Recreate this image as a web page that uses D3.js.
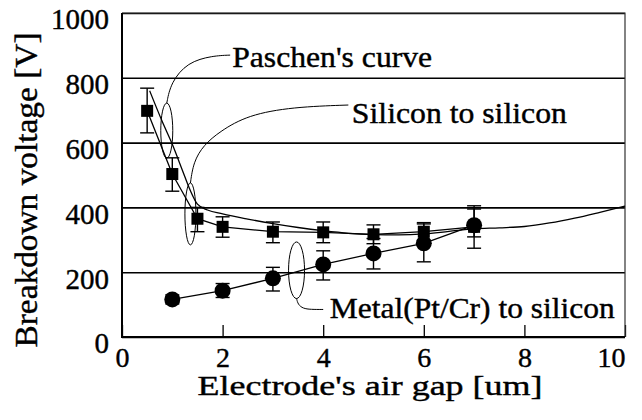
<!DOCTYPE html>
<html>
<head>
<meta charset="utf-8">
<script src="https://cdn.jsdelivr.net/npm/d3@7"></script>
<style>
	body { margin: 0; background: #fff; }
</style>
</head>
<body>
<svg id="chart" width="642" height="420"></svg>
<script>
// silicon to silicon (squares)
const si_gap = [0.5, 1, 1.5, 2, 3, 4, 5, 6, 7];
const si_volt = [698, 503, 365, 340, 325, 323, 317, 325, 340];
const si_low = [630, 450, 325, 308, 291, 291, 288, 298, 309];
const si_high = [768, 553, 400, 371, 355, 355, 346, 353, 395];

// metal (Pt/Cr) to silicon (circles)
const metal_gap = [1, 2, 3, 4, 5, 6, 7];
const metal_volt = [116, 143, 181, 224, 258, 289, 345];
const metal_low = [102, 122, 142, 176, 210, 232, 274];
const metal_high = [130, 165, 215, 266, 304, 349, 405];

// Paschen's curve
const paschen_gap = [0.55, 0.8, 1.0, 1.2, 1.35, 1.5, 1.7, 2.0, 2.5, 3.0, 3.5, 4.0, 4.5, 5.0, 5.5, 6.0, 6.5, 7.0, 7.5, 8.0, 8.5, 9.0, 9.5, 10];
const paschen_volt = [760, 665, 595, 515, 455, 410, 392, 380, 364, 350, 338, 328, 320, 316, 315, 318, 326, 334, 337, 341, 352, 367, 385, 404];

const x_ticks = [0, 2, 4, 6, 8, 10];
const y_ticks = [0, 200, 400, 600, 800, 1000];

// annotations: ellipse centre (data units), leader line points, label
const notes = [
	{ label: "Paschen's curve", cx: 0.89, cy: 637, rx: 6, ry: 27.5,
		leader: [[0.89, 722], [0.97, 785], [1.3, 848], [1.8, 868], [2.15, 870]], tx: 2.19, ty: 833, len: 200 },
	{ label: 'Silicon to silicon', cx: 1.36, cy: 380, rx: 5.5, ry: 31,
		leader: [[1.36, 475], [1.42, 540], [1.62, 592], [1.95, 635], [2.5, 685], [3.4, 710], [4.5, 716]], tx: 4.57, ty: 660, len: 215 },
	{ label: 'Metal(Pt/Cr) to silicon', cx: 3.47, cy: 206, rx: 8, ry: 28.3,
		leader: [[3.47, 119], [3.5, 100], [3.6, 88], [3.75, 85], [4.0, 85]], tx: 4.13, ty: 59, len: 285 }
];

const serif = '"Liberation Serif", "Times New Roman", serif';

const svg = d3.select('#chart');
const x = d3.scaleLinear().domain([0, 10]).range([122, 625]);
const y = d3.scaleLinear().domain([0, 1000]).range([337, 13]);

// all text slightly heavier, like the scanned original
const ink = sel => sel.attr('fill', '#000').attr('stroke', '#000').attr('stroke-width', 0.4);

// grid + y labels
const gy = svg.append('g')
	.attr('transform', `translate(${x(0)},0)`)
	.call(d3.axisLeft(y).tickValues(y_ticks).tickFormat(d3.format('d'))
		.tickSizeInner(-(x(10) - x(0))).tickSizeOuter(0).tickPadding(13));
gy.select('.domain').remove();
gy.attr('font-family', null).attr('font-size', null);
gy.selectAll('.tick line').attr('stroke', '#000').attr('stroke-width', 1.6);
gy.selectAll('.tick text').attr('dy', '0.55em').call(ink)
	.style('font-family', serif).style('font-size', '29px');

// x axis ticks (inward) + labels
const gx = svg.append('g')
	.attr('transform', `translate(0,${y(0)})`)
	.call(d3.axisBottom(x).tickValues(x_ticks).tickFormat(d3.format('d'))
		.tickSizeInner(-12).tickSizeOuter(0).tickPadding(10));
gx.select('.domain').remove();
gx.attr('font-family', null).attr('font-size', null);
gx.selectAll('.tick line').attr('stroke', '#000').attr('stroke-width', 1.3);
gx.selectAll('.tick text').call(ink)
	.style('font-family', serif).style('font-size', '28px');
gx.selectAll('.tick text').filter(d => d === 10).attr('text-anchor', 'end').attr('x', 0);

// frame
svg.append('path')
	.attr('d', `M${x(0)},${y(1000)}H${x(10)}V${y(0)}`)
	.attr('fill', 'none').attr('stroke', '#333').attr('stroke-width', 1.2);
svg.append('path')
	.attr('d', `M${x(0)},${y(1000)}V${y(0)}H${x(10)}`)
	.attr('fill', 'none').attr('stroke', '#000').attr('stroke-width', 2);

// axis titles
svg.append('text')
	.attr('transform', `translate(37,${(y(0) + y(1000)) / 2 + 15}) rotate(-90)`)
	.attr('text-anchor', 'middle')
	.style('font-family', serif).style('font-size', '32px')
	.attr('textLength', 315).attr('lengthAdjust', 'spacingAndGlyphs')
	.call(ink)
	.text('Breakdown voltage [V]');
svg.append('text')
	.attr('x', 370).attr('y', 395)
	.attr('text-anchor', 'middle')
	.style('font-family', serif).style('font-size', '28px')
	.attr('textLength', 345).attr('lengthAdjust', 'spacingAndGlyphs')
	.call(ink)
	.text("Electrode's air gap [um]");

const line = d3.line().x(d => x(d[0])).y(d => y(d[1]));

// Paschen's curve
svg.append('path')
	.datum(d3.zip(paschen_gap, paschen_volt))
	.attr('d', line.curve(d3.curveMonotoneX))
	.attr('fill', 'none').attr('stroke', '#000').attr('stroke-width', 1.3);

// connecting lines
line.curve(d3.curveLinear);
svg.append('path')
	.datum(d3.zip(si_gap, si_volt))
	.attr('d', line)
	.attr('fill', 'none').attr('stroke', '#000').attr('stroke-width', 1.3);
svg.append('path')
	.datum(d3.zip(metal_gap, metal_volt))
	.attr('d', line)
	.attr('fill', 'none').attr('stroke', '#000').attr('stroke-width', 1.3);

// error bars
const errbars = (gap, low, high) => {
	const g = svg.append('g').attr('stroke', '#000').attr('stroke-width', 1.4);
	gap.forEach((gp, i) => {
		g.append('line').attr('x1', x(gp)).attr('x2', x(gp)).attr('y1', y(low[i])).attr('y2', y(high[i]));
		[low[i], high[i]].forEach(v => {
			g.append('line').attr('x1', x(gp) - 7).attr('x2', x(gp) + 7).attr('y1', y(v)).attr('y2', y(v));
		});
	});
};
errbars(si_gap, si_low, si_high);
errbars(metal_gap, metal_low, metal_high);

// markers
svg.append('g').selectAll('rect')
	.data(d3.zip(si_gap, si_volt))
	.join('rect')
	.attr('x', d => x(d[0]) - 6).attr('y', d => y(d[1]) - 6)
	.attr('width', 12).attr('height', 12)
	.attr('fill', '#000');
svg.append('g').selectAll('circle')
	.data(d3.zip(metal_gap, metal_volt))
	.join('circle')
	.attr('cx', d => x(d[0])).attr('cy', d => y(d[1]))
	.attr('r', 8)
	.attr('fill', '#000');

// annotations
const leader = d3.line().x(d => x(d[0])).y(d => y(d[1])).curve(d3.curveBasis);
notes.forEach(n => {
	svg.append('ellipse')
		.attr('cx', x(n.cx)).attr('cy', y(n.cy)).attr('rx', n.rx).attr('ry', n.ry)
		.attr('fill', 'none').attr('stroke', '#000').attr('stroke-width', 1);
	svg.append('path')
		.attr('d', leader(n.leader))
		.attr('fill', 'none').attr('stroke', '#000').attr('stroke-width', 1);
	svg.append('text')
		.attr('x', x(n.tx)).attr('y', y(n.ty))
		.style('font-family', serif).style('font-size', '30px')
		.attr('textLength', n.len).attr('lengthAdjust', 'spacingAndGlyphs')
		.call(ink)
		.text(n.label);
});
</script>
</body>
</html>
